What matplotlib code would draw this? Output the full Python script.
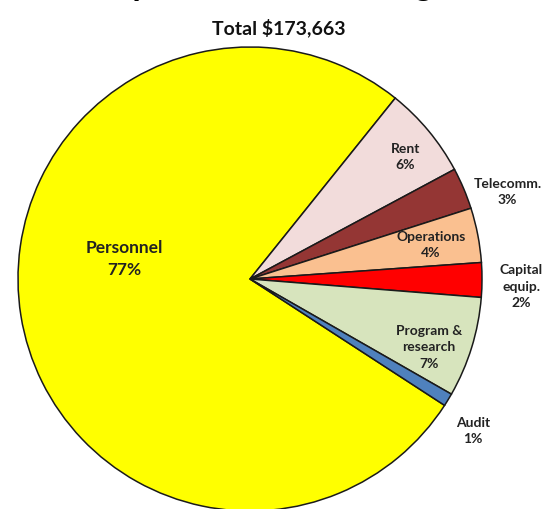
import numpy as np
import matplotlib.pyplot as plt

# budget lines (USD)
categories = ['Personnel', 'Rent', 'Telecomm.', 'Operations', 'Capital\nequip.', 'Program &\nresearch', 'Audit']
amounts = [133027, 11114, 5036, 6599, 4168, 12156, 1563]
colors = ['#FFFF00', '#F2DCDB', '#943634', '#FAC090', '#FF0000', '#D7E4BD', '#4F81BD']

total = sum(amounts)
pct = [100.0 * a / total for a in amounts]

# label spots in pie units (radius 1)
label_xy = [(-0.54, 0.09), (0.67, 0.53), (1.11, 0.38), (0.78, 0.15),
            (1.17, -0.03), (0.77, -0.29), (0.96, -0.65)]

W, H = 547, 510
fig = plt.figure(figsize=(W / 100, H / 100), dpi=100)
cx, cy, R = 250, 280, 232  # pie centre / radius in pixels
ax = fig.add_axes([(cx - R) / W, (H - cy - R) / H, 2 * R / W, 2 * R / H])

ax.pie(amounts, colors=colors, startangle=-33, counterclock=False, radius=1,
       wedgeprops=dict(edgecolor='#1a1a1a', linewidth=1.1))
ax.set_xlim(-1, 1)
ax.set_ylim(-1, 1)
ax.set_aspect('equal')
ax.axis('off')

font = ['Lato', 'DejaVu Sans']
for i, (name, p) in enumerate(zip(categories, pct)):
    x, y = label_xy[i]
    size = 12.5 if i == 0 else 10
    ax.text(x, y, '%s\n%d%%' % (name, round(p)), ha='center', va='center',
            fontsize=size, fontweight='bold', family=font, color='#222222',
            linespacing=1.45)

fig.text(0.51, 1 + 4 / H, 'Expected Annual Budget', ha='center', va='baseline',
         fontsize=24, fontweight='bold', family=font)
fig.text(0.51, 1 - 28 / H, 'Total $%s' % format(total, ','), ha='center', va='center',
         fontsize=14, fontweight='bold', family=font, color='#111111')

fig.savefig('out.png', dpi=100)
